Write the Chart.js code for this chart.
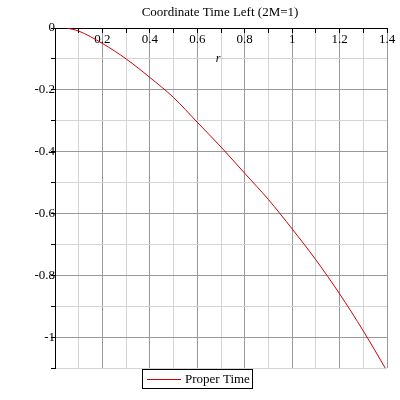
<!DOCTYPE html>
<html>
<head>
<meta charset="utf-8">
<script src="https://cdn.jsdelivr.net/npm/chart.js@4"></script>
<style>body{margin:0;background:#fff}</style>
</head>
<body>
<canvas id="c" width="400" height="400"></canvas>
<script>
const rValues = [0.05, 0.1, 0.2, 0.3, 0.4, 0.5, 0.6, 0.7, 0.8, 0.9, 1.0, 1.1, 1.2, 1.3, 1.4];
const properTime = [0, -0.01, -0.05, -0.1, -0.16, -0.225, -0.305, -0.385, -0.47, -0.555, -0.65, -0.75, -0.86, -0.98, -1.11];
const titleText = 'Coordinate Time Left (2M=1)';
const seriesName = 'Proper Time';
const axisName = 'r';

const FONT = 'Liberation Serif';
const isMajor = (v) => Math.abs(Math.round(v * 10) % 2) === 0;

const extras = {
  id: 'extras',
  afterDraw(chart) {
    const ctx = chart.ctx;
    ctx.save();
    ctx.fillStyle = '#000';
    ctx.font = '13px "' + FONT + '"';
    ctx.textAlign = 'center';
    ctx.textBaseline = 'middle';
    ctx.fillText(titleText, 220, 13);
    ctx.font = 'italic 12px "' + FONT + '"';
    ctx.fillText(axisName, 218, 59);
    // legend
    ctx.strokeStyle = '#000';
    ctx.lineWidth = 1;
    ctx.strokeRect(142.5, 369.5, 110, 19);
    ctx.strokeStyle = '#d00000';
    ctx.beginPath();
    ctx.moveTo(147, 379.5);
    ctx.lineTo(181, 379.5);
    ctx.stroke();
    ctx.fillStyle = '#000';
    ctx.font = '13px "' + FONT + '"';
    ctx.textAlign = 'left';
    ctx.fillText(seriesName, 185, 380);
    ctx.restore();
  }
};

new Chart(document.getElementById('c'), {
  type: 'line',
  data: {
    datasets: [{
      label: seriesName,
      data: rValues.map((x, i) => ({ x: x, y: properTime[i] })),
      borderColor: '#d00000',
      borderWidth: 1,
      pointRadius: 0,
      cubicInterpolationMode: 'monotone',
      fill: false
    }]
  },
  options: {
    responsive: false,
    animation: false,
    layout: { padding: { left: 55, right: 13, top: 28, bottom: 32 } },
    plugins: { legend: { display: false }, title: { display: false }, tooltip: { enabled: false } },
    scales: {
      x: {
        type: 'linear',
        position: { y: 0 },
        min: 0, max: 1.4,
        afterFit: (s) => { s.height = 0; },
        border: { color: '#000', width: 1 },
        grid: {
          color: (c) => isMajor(c.tick.value) ? '#999' : '#d4d4d4',
          tickLength: 4,
          tickColor: '#000'
        },
        ticks: {
          stepSize: 0.1,
          autoSkip: false,
          maxRotation: 0,
          color: '#000',
          font: { family: FONT, size: 13 },
          padding: 0,
          callback: (v) => (v === 0 || !isMajor(v)) ? '' : String(Math.round(v * 10) / 10)
        }
      },
      y: {
        type: 'linear',
        position: { x: 0 },
        min: -1.1, max: 0,
        afterFit: (s) => { s.width = 0; },
        border: { color: '#000', width: 1 },
        grid: {
          color: (c) => isMajor(c.tick.value) ? '#999' : '#d4d4d4',
          tickLength: 4,
          tickColor: '#000'
        },
        ticks: {
          stepSize: 0.1,
          autoSkip: false,
          color: '#000',
          font: { family: FONT, size: 13 },
          padding: 6,
          callback: (v) => !isMajor(v) ? '' : String(Math.round(v * 10) / 10)
        }
      }
    }
  },
  plugins: [extras]
});
</script>
</body>
</html>
